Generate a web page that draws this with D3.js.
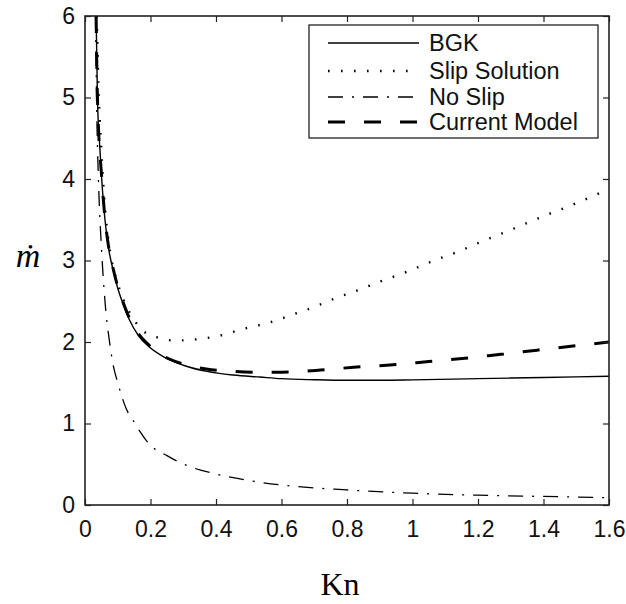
<!DOCTYPE html>
<html><head><meta charset="utf-8">
<script src="https://cdn.jsdelivr.net/npm/d3@7"></script>
<style>body{margin:0;background:#fff}</style>
</head><body>
<svg id="c" width="626" height="604"></svg>
<script>
// ---- data ----
const xTicks = [0, 0.2, 0.4, 0.6, 0.8, 1, 1.2, 1.4, 1.6];
const yTicks = [0, 1, 2, 3, 4, 5, 6];
const seriesNames = ["BGK", "Slip Solution", "No Slip", "Current Model"];

const bgkKn = [0.034,0.038,0.045,0.051,0.061,0.072,0.086,0.1,0.117,0.137,0.163,0.193,0.239,0.3,0.372,0.453,0.534,0.6,0.7,0.8,0.9,1.0,1.2,1.4,1.6];
const bgkM  = [6.0,5.0,4.4,4.0,3.5,3.15,2.88,2.66,2.46,2.26,2.08,1.95,1.82,1.715,1.64,1.595,1.57,1.55,1.537,1.53,1.53,1.535,1.55,1.565,1.58];

const slipKn = [0.036,0.04,0.05,0.062,0.075,0.1,0.117,0.135,0.157,0.186,0.227,0.268,0.31,0.351,0.39,0.433,0.473,0.514,0.555,0.595,0.636,0.672,0.712,0.748,0.788,0.83,0.9,0.982,1.06,1.14,1.216,1.29,1.41,1.486,1.562,1.6];
const slipM  = [6.0,5.3,4.35,3.6,3.15,2.72,2.52,2.37,2.23,2.11,2.05,2.02,2.02,2.04,2.06,2.10,2.15,2.19,2.23,2.28,2.34,2.39,2.45,2.51,2.57,2.63,2.74,2.86,2.99,3.11,3.24,3.36,3.56,3.68,3.81,3.88];

const noSlipKn = [0.032,0.036,0.041,0.051,0.061,0.076,0.086,0.1,0.125,0.153,0.168,0.198,0.253,0.28,0.314,0.4,0.5,0.6,0.8,1.0,1.2,1.4,1.6];
const noSlipM  = [6.0,4.8,4.0,3.1,2.5,1.97,1.72,1.5,1.19,1.0,0.9,0.74,0.6,0.54,0.48,0.38,0.30,0.245,0.185,0.145,0.12,0.105,0.09];

const curKn = [0.034,0.038,0.051,0.061,0.072,0.086,0.1,0.117,0.137,0.163,0.193,0.239,0.3,0.37,0.45,0.52,0.6,0.72,0.82,0.94,1.05,1.16,1.27,1.38,1.49,1.6];
const curM  = [6.0,5.0,4.02,3.52,3.17,2.9,2.68,2.48,2.28,2.1,1.97,1.83,1.73,1.67,1.64,1.63,1.63,1.655,1.69,1.72,1.76,1.80,1.85,1.90,1.95,2.0];

// ---- layout ----
const L = 85, R = 609, T = 16, B = 505;
const svg = d3.select("#c");
const x = d3.scaleLinear().domain([0, 1.6]).range([L, R]);
const y = d3.scaleLinear().domain([0, 6]).range([B, T]);

const styles = [
  {w:1.4, dash:null},
  {w:2.4, dash:"1.6,11.4"},
  {w:1.3, dash:"15,9,2,9"},
  {w:3.0, dash:"17,19"}
];
const data = [
  d3.zip(bgkKn, bgkM), d3.zip(slipKn, slipM), d3.zip(noSlipKn, noSlipM), d3.zip(curKn, curM)
];

svg.append("clipPath").attr("id","clip").append("rect")
  .attr("x", L).attr("y", T).attr("width", R-L).attr("height", B-T);

const line = d3.line().x(d => x(d[0])).y(d => y(d[1])).curve(d3.curveMonotoneX);

const g = svg.append("g").attr("clip-path","url(#clip)");
data.forEach((d,i) => {
  g.append("path").attr("d", line(d)).attr("fill","none").attr("stroke","#000")
    .attr("stroke-width", styles[i].w)
    .attr("stroke-dasharray", styles[i].dash);
});

// axes with inward ticks on all four sides
const tickLen = 6;
const fnt = "'Liberation Sans', Arial, sans-serif";
const fmt = d => String(d);
svg.append("g").attr("transform",`translate(0,${B})`)
  .call(d3.axisBottom(x).tickValues(xTicks).tickSize(-tickLen).tickPadding(16).tickFormat(fmt))
  .call(a => a.select(".domain").remove());
svg.append("g").attr("transform",`translate(0,${T})`)
  .call(d3.axisTop(x).tickValues(xTicks).tickSize(-tickLen).tickFormat(""))
  .call(a => a.select(".domain").remove());
svg.append("g").attr("transform",`translate(${L},0)`)
  .call(d3.axisLeft(y).tickValues(yTicks).tickSize(-tickLen).tickPadding(10).tickFormat(fmt))
  .call(a => a.select(".domain").remove());
svg.append("g").attr("transform",`translate(${R},0)`)
  .call(d3.axisRight(y).tickValues(yTicks).tickSize(-tickLen).tickFormat(""))
  .call(a => a.select(".domain").remove());
svg.selectAll(".tick line").attr("stroke","#222").attr("stroke-width",1.2);
svg.selectAll(".tick text").attr("font-family", fnt).attr("font-size", 23).attr("fill","#111");

svg.append("rect").attr("x",L).attr("y",T).attr("width",R-L).attr("height",B-T)
  .attr("fill","none").attr("stroke","#222").attr("stroke-width",1.6);

// legend
const lg = svg.append("g");
lg.append("rect").attr("x",309).attr("y",25).attr("width",289).attr("height",113)
  .attr("fill","#fff").attr("stroke","#222").attr("stroke-width",1.3);
const rowY = [43, 71, 97, 122];
seriesNames.forEach((n,i) => {
  lg.append("line").attr("x1",328).attr("x2",419).attr("y1",rowY[i]).attr("y2",rowY[i])
    .attr("stroke","#000").attr("stroke-width",styles[i].w).attr("stroke-dasharray",styles[i].dash);
  lg.append("text").attr("x",429).attr("y",rowY[i]+8).text(n)
    .attr("font-family",fnt).attr("font-size",23.5).attr("fill","#111");
});

// axis titles
svg.append("text").attr("x",340).attr("y",595).attr("text-anchor","middle")
  .attr("font-family","'Liberation Serif','DejaVu Serif',serif").attr("font-size",32).text("Kn");
svg.append("text").attr("x",28).attr("y",267).attr("text-anchor","middle")
  .attr("font-family","'Liberation Serif','DejaVu Serif',serif").attr("font-style","italic").attr("font-size",34).text("ṁ");
</script>
</body></html>
